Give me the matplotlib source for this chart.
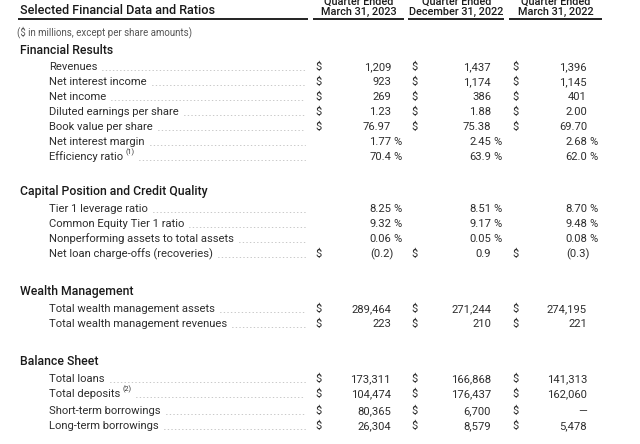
import matplotlib
matplotlib.use("Agg")
import matplotlib.pyplot as plt

plt.rcParams['font.family'] = ['Roboto', 'DejaVu Sans']

title = "Selected Financial Data and Ratios"
subtitle = "($ in millions, except per share amounts)"
col_top = ["Quarter Ended", "Quarter Ended", "Quarter Ended"]
col_dates = ["March 31, 2023", "December 31, 2022", "March 31, 2022"]

sections = ["Financial Results", "Capital Position and Credit Quality",
            "Wealth Management", "Balance Sheet"]

fin_labels = ["Revenues", "Net interest income", "Net income",
              "Diluted earnings per share", "Book value per share",
              "Net interest margin", "Efficiency ratio"]
fin_values = [["1,209", "1,437", "1,396"],
              ["923", "1,174", "1,145"],
              ["269", "386", "401"],
              ["1.23", "1.88", "2.00"],
              ["76.97", "75.38", "69.70"],
              ["1.77", "2.45", "2.68"],
              ["70.4", "63.9", "62.0"]]
fin_dollar = [True, True, True, True, True, False, False]
fin_pct = [False, False, False, False, False, True, True]
fin_note = ["", "", "", "", "", "", "(1)"]

cap_labels = ["Tier 1 leverage ratio", "Common Equity Tier 1 ratio",
              "Nonperforming assets to total assets",
              "Net loan charge-offs (recoveries)"]
cap_values = [["8.25", "8.51", "8.70"],
              ["9.32", "9.17", "9.48"],
              ["0.06", "0.05", "0.08"],
              ["(0.2)", "0.9", "(0.3)"]]
cap_dollar = [False, False, False, True]
cap_pct = [True, True, True, False]
cap_note = ["", "", "", ""]

wm_labels = ["Total wealth management assets", "Total wealth management revenues"]
wm_values = [["289,464", "271,244", "274,195"],
             ["223", "210", "221"]]
wm_dollar = [True, True]
wm_pct = [False, False]
wm_note = ["", ""]

bs_labels = ["Total loans", "Total deposits", "Short-term borrowings",
             "Long-term borrowings"]
bs_values = [["173,311", "166,868", "141,313"],
             ["104,474", "176,437", "162,060"],
             ["80,365", "6,700", "\u2014"],
             ["26,304", "8,579", "5,478"]]
bs_dollar = [True, True, True, True]
bs_pct = [False, False, False, False]
bs_note = ["", "(2)", "", ""]

# layout (pixel coordinates, y downward)
W, H = 640, 444
sec_y = [50, 191, 291, 361]
row_y = [[67, 82, 97, 112, 127, 142, 157],
         [209, 224, 239, 254],
         [309, 324],
         [379, 394, 411, 426]]
dollar_x = [319, 415, 516]
value_r = [391, 491, 587]
label_x = 49
leader_end = 305

fig = plt.figure(figsize=(6.4, 4.44), dpi=100)
ax = fig.add_axes([0, 0, 1, 1])
ax.set_xlim(0, W)
ax.set_ylim(H, 0)
ax.axis('off')

dark = '#1a1a1a'
body = '#2e2e2e'
fs = 8.1

ax.text(20, 11, title, fontsize=9.1, fontweight='medium', color=dark,
        ha='left', va='center')
col_cx = [358.5, 456.5, 555.5]
for cx, top, d in zip(col_cx, col_top, col_dates):
    ax.text(cx, 2.0, top, fontsize=7.8, fontweight='medium', color=dark,
            ha='center', va='center')
    ax.text(cx, 11.5, d, fontsize=7.8, fontweight='medium', color=dark,
            ha='center', va='center')
for x0, x1 in [(18, 308), (313, 404), (408, 504), (509, 602)]:
    ax.plot([x0, x1], [19.5, 19.5], color='#222222', lw=1.4,
            solid_capstyle='butt')

ax.text(17, 32, subtitle, fontsize=7.0, color='#555555', ha='left', va='center')

fig.canvas.draw()
renderer = fig.canvas.get_renderer()
inv = ax.transData.inverted()

groups = [(fin_labels, fin_values, fin_dollar, fin_pct, fin_note),
          (cap_labels, cap_values, cap_dollar, cap_pct, cap_note),
          (wm_labels, wm_values, wm_dollar, wm_pct, wm_note),
          (bs_labels, bs_values, bs_dollar, bs_pct, bs_note)]

for s, (name, ys, grp) in enumerate(zip(sections, row_y, groups)):
    ax.text(20, sec_y[s], name, fontsize=8.8, fontweight='medium', color=dark,
            ha='left', va='center')
    labels, values, dollars, pcts, notes = grp
    for y, lab, vals, dol, pct, note in zip(ys, labels, values, dollars, pcts, notes):
        t = ax.text(label_x, y, lab, fontsize=fs, color=body,
                    ha='left', va='center')
        bb = t.get_window_extent(renderer=renderer)
        xend = inv.transform((bb.x1, bb.y0))[0]
        if note:
            tn = ax.text(xend + 2, y - 5, note, fontsize=5.2, color=body,
                         ha='left', va='center')
            bbn = tn.get_window_extent(renderer=renderer)
            xend = inv.transform((bbn.x1, bbn.y0))[0]
        ax.plot([xend + 5, leader_end], [y + 3, y + 3], color='#c6c6c6',
                lw=0.7, linestyle=(0, (0.7, 3.0)), dash_capstyle='round')
        for c in range(3):
            if dol:
                ax.text(dollar_x[c], y, "$", fontsize=fs, color=body,
                        ha='center', va='center')
            v = vals[c]
            xr = value_r[c]
            if v.endswith(")"):
                xr += 3
            ax.text(xr, y, v, fontsize=fs, color=body, ha='right', va='center')
            if pct:
                ax.text(xr + 2.5, y, "%", fontsize=fs, color=body,
                        ha='left', va='center')

fig.savefig("out.png", dpi=100, facecolor='white')
